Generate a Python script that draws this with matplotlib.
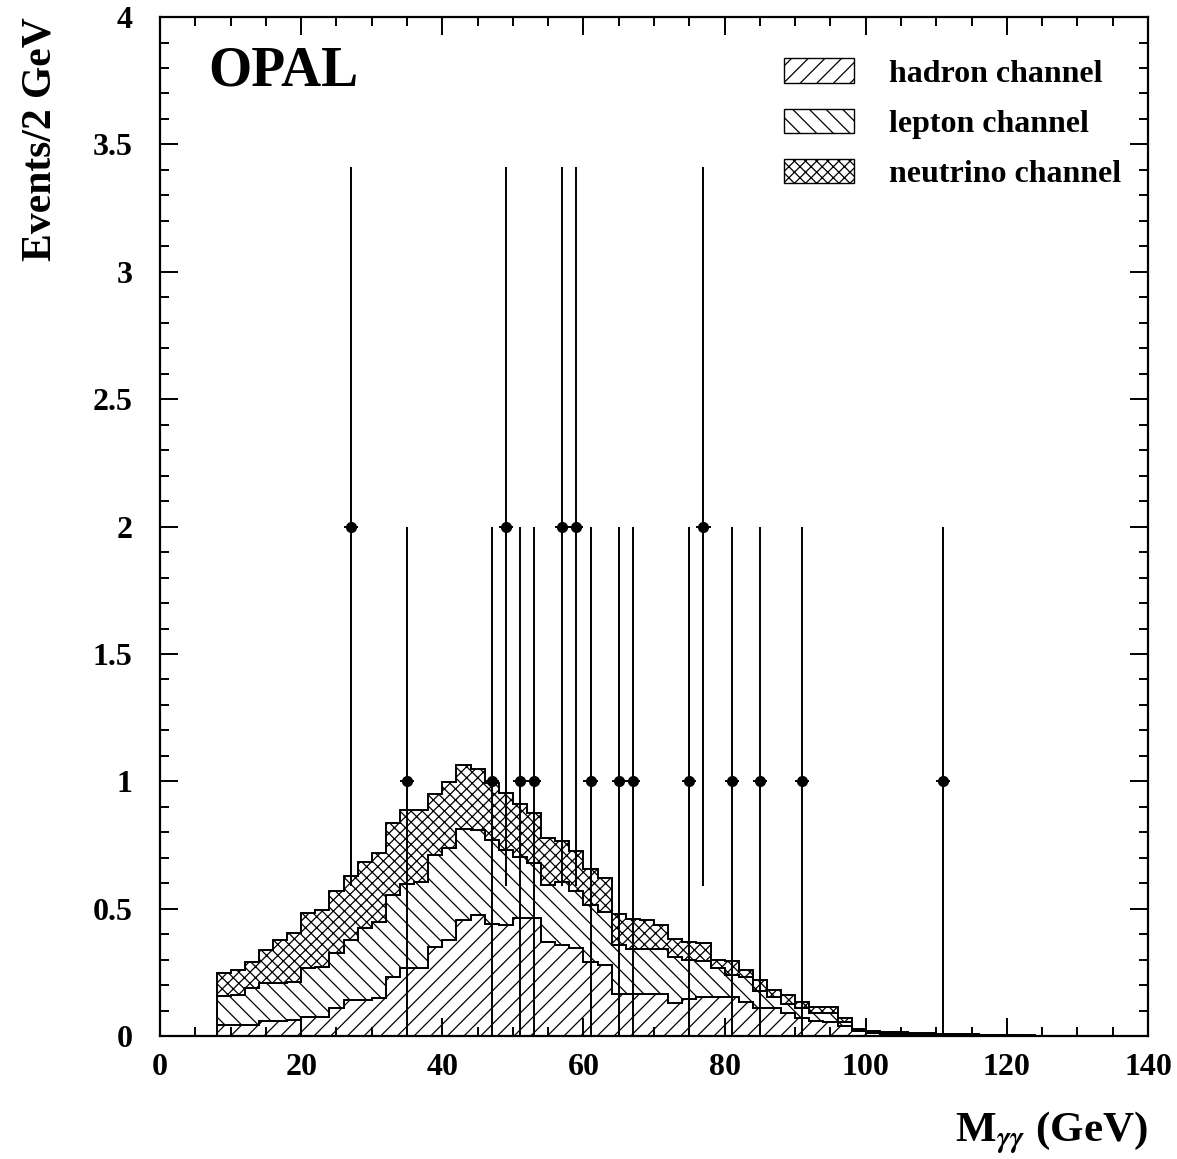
import numpy as np
import matplotlib
matplotlib.use("Agg")
import matplotlib.pyplot as plt
from matplotlib.patches import Patch
from matplotlib.ticker import MultipleLocator

plt.rcParams["font.family"] = ["Liberation Serif", "DejaVu Serif"]
plt.rcParams["font.weight"] = "bold"
plt.rcParams["mathtext.fontset"] = "stix"
plt.rcParams["hatch.linewidth"] = 0.9

# 2 GeV bins, 8 -> 126 GeV
edges = np.arange(8, 128, 2)

# cumulative heights (hadron, +lepton, +neutrino)
hadron = [0.043, 0.043, 0.043, 0.059, 0.059, 0.062, 0.075, 0.076, 0.112, 0.141,
          0.141, 0.148, 0.233, 0.266, 0.266, 0.35, 0.377, 0.455, 0.475, 0.442,
          0.436, 0.462, 0.462, 0.37, 0.357, 0.345, 0.292, 0.279, 0.167, 0.167,
          0.167, 0.167, 0.131, 0.145, 0.155, 0.155, 0.155, 0.135, 0.11, 0.11,
          0.09, 0.07, 0.06, 0.055, 0.04, 0.02, 0.012, 0.01, 0.008, 0.007,
          0.006, 0.005, 0.005, 0.004, 0.003, 0.003, 0.002, 0.001, 0.001]
had_lep = [0.157, 0.161, 0.19, 0.207, 0.207, 0.213, 0.266, 0.272, 0.327, 0.377,
           0.423, 0.449, 0.553, 0.599, 0.606, 0.71, 0.737, 0.815, 0.809, 0.769,
           0.73, 0.704, 0.678, 0.593, 0.605, 0.57, 0.514, 0.488, 0.357, 0.344,
           0.344, 0.344, 0.311, 0.30, 0.296, 0.266, 0.239, 0.233, 0.178, 0.154,
           0.128, 0.109, 0.089, 0.089, 0.056, 0.024, 0.018, 0.015, 0.012, 0.01,
           0.009, 0.008, 0.008, 0.007, 0.005, 0.004, 0.003, 0.002, 0.001]
total = [0.246, 0.259, 0.29, 0.338, 0.377, 0.403, 0.484, 0.497, 0.571, 0.628,
         0.684, 0.72, 0.835, 0.887, 0.887, 0.952, 0.997, 1.064, 1.05, 0.995,
         0.953, 0.913, 0.874, 0.776, 0.766, 0.727, 0.658, 0.619, 0.481, 0.459,
         0.455, 0.436, 0.383, 0.37, 0.366, 0.298, 0.296, 0.259, 0.22, 0.181,
         0.161, 0.135, 0.115, 0.115, 0.073, 0.03, 0.021, 0.018, 0.016, 0.012,
         0.011, 0.01, 0.01, 0.008, 0.006, 0.005, 0.004, 0.003, 0.002]

# data points
data_x = [27, 35, 47, 49, 51, 53, 57, 59, 61, 65, 67, 75, 77, 81, 85, 91, 111]
data_n = [2, 1, 1, 2, 1, 1, 2, 2, 1, 1, 1, 1, 2, 1, 1, 1, 1]
data_err = [1.41, 1, 1, 1.41, 1, 1, 1.41, 1.41, 1, 1, 1, 1, 1.41, 1, 1, 1, 1]

fig = plt.figure(figsize=(11.77, 11.59), dpi=100)
ax = fig.add_axes([0.136, 0.106, 0.8394, 0.8793])

zeros = np.zeros(len(hadron))
layers = [
    (hadron, zeros, "//", "hadron channel"),
    (had_lep, hadron, "\\\\", "lepton channel"),
    (total, had_lep, "xxx", "neutrino channel"),
]
handles = []
for top, base, hatch, label in layers:
    ax.stairs(top, edges, baseline=base, fill=True, facecolor="white",
              edgecolor="black", hatch=hatch, linewidth=1.4)
    handles.append(Patch(facecolor="white", edgecolor="black", hatch=hatch,
                         linewidth=1.0, label=label))

ax.errorbar(data_x, data_n, yerr=data_err, xerr=1, fmt="o", color="black",
            markersize=7, elinewidth=1.4, capsize=0)

ax.set_xlim(0, 140)
ax.set_ylim(0, 4)
ax.xaxis.set_major_locator(MultipleLocator(20))
ax.xaxis.set_minor_locator(MultipleLocator(5))
ax.yaxis.set_minor_locator(MultipleLocator(0.1))
ax.set_yticks([0, 0.5, 1, 1.5, 2, 2.5, 3, 3.5, 4])
ax.set_yticklabels(["0", "0.5", "1", "1.5", "2", "2.5", "3", "3.5", "4"])
ax.tick_params(which="both", direction="in", top=True, right=True,
               labelsize=23, width=1.4)
ax.tick_params(which="major", length=13)
ax.tick_params(axis="x", which="major", pad=12)
ax.tick_params(axis="y", which="major", pad=20)
ax.tick_params(which="minor", length=6.5)
for s in ax.spines.values():
    s.set_linewidth(1.6)

ax.set_ylabel("Events/2 GeV", fontsize=30, fontweight="bold", loc="top",
              labelpad=24)
ax.set_xlabel(r"M$_{\gamma\gamma}$ (GeV)", fontsize=31, fontweight="bold",
              loc="right", labelpad=20)

ax.text(0.049, 0.972, "OPAL", transform=ax.transAxes, fontsize=40,
        fontweight="bold", va="top", ha="left")

ax.legend(handles=handles, loc="upper left", bbox_to_anchor=(0.615, 0.975),
          frameon=False, fontsize=23, handlelength=2.2, handleheight=0.8,
          handletextpad=1.1, labelspacing=0.62, borderpad=0)

fig.savefig("out.png", dpi=100)
